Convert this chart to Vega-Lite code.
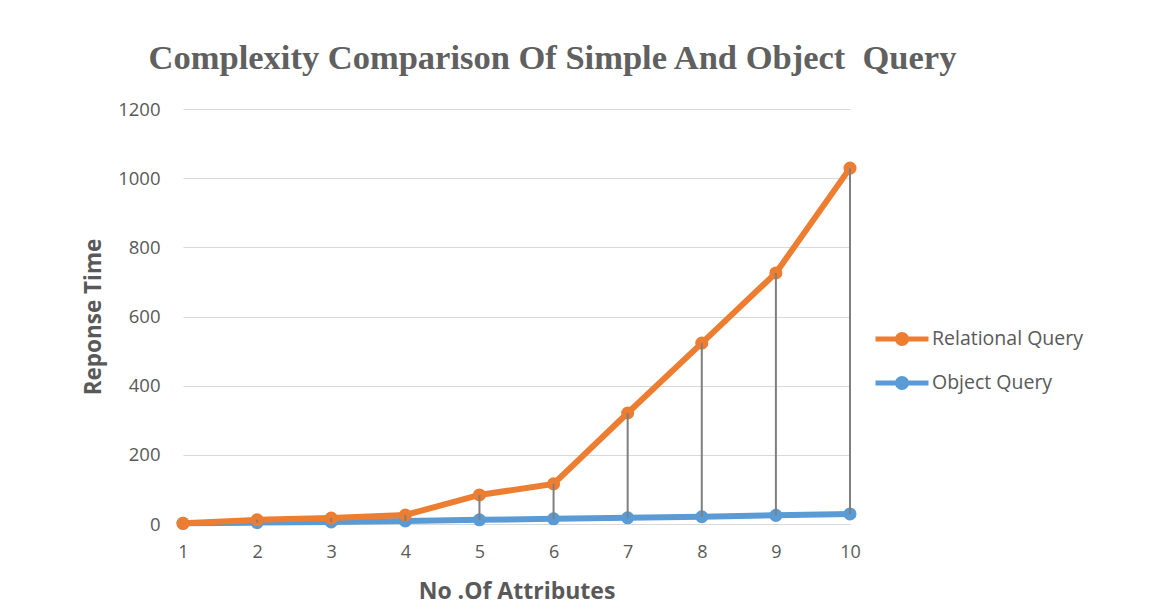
{
  "$schema": "https://vega.github.io/schema/vega-lite/v6.json",
  "autosize": {"type": "none"},
  "width": 667,
  "height": 415,
  "padding": {"left": 183, "top": 109, "right": 311, "bottom": 77},
  "background": "white",
  "title": {
    "text": "Complexity Comparison Of Simple And Object\u00a0 Query",
    "font": "Liberation Serif",
    "fontSize": 34.5,
    "fontWeight": "bold",
    "color": "#606060",
    "anchor": "middle",
    "frame": "group",
    "dx": 36,
    "offset": 24
  },
  "data": {
    "values": [
      {"attributes": 1, "Relational Query": 2, "Object Query": 2},
      {"attributes": 2, "Relational Query": 12, "Object Query": 4},
      {"attributes": 3, "Relational Query": 17, "Object Query": 6},
      {"attributes": 4, "Relational Query": 26, "Object Query": 9},
      {"attributes": 5, "Relational Query": 84, "Object Query": 12},
      {"attributes": 6, "Relational Query": 116, "Object Query": 15},
      {"attributes": 7, "Relational Query": 321, "Object Query": 18},
      {"attributes": 8, "Relational Query": 523, "Object Query": 21},
      {"attributes": 9, "Relational Query": 726, "Object Query": 25},
      {"attributes": 10, "Relational Query": 1029, "Object Query": 29}
    ]
  },
  "encoding": {
    "x": {
      "field": "attributes",
      "type": "quantitative",
      "scale": {"domain": [1, 10], "nice": false, "zero": false},
      "axis": {
        "title": "No .Of Attributes",
        "values": [1, 2, 3, 4, 5, 6, 7, 8, 9, 10],
        "format": "d",
        "labelFlush": false,
        "grid": false,
        "ticks": false,
        "domain": true,
        "domainColor": "#d9d9d9",
        "domainWidth": 1,
        "labelFont": "Open Sans",
        "labelFontSize": 18,
        "labelColor": "#595959",
        "labelPadding": 19,
        "titleFont": "Open Sans",
        "titleFontSize": 23,
        "titleFontWeight": "bold",
        "titleColor": "#595959",
        "titlePadding": 19
      }
    }
  },
  "layer": [
    {
      "transform": [{"fold": ["Object Query", "Relational Query"], "as": ["series", "value"]}],
      "mark": {"type": "line", "strokeWidth": 6, "point": {"filled": true, "size": 170}},
      "encoding": {
        "y": {
          "field": "value",
          "type": "quantitative",
          "scale": {"domain": [0, 1200], "nice": false},
          "axis": {
            "title": "Reponse Time",
            "values": [0, 200, 400, 600, 800, 1000, 1200],
            "format": "d",
            "grid": true,
            "gridColor": "#d9d9d9",
            "gridWidth": 1,
            "domain": false,
            "ticks": false,
            "labelFont": "Open Sans",
            "labelFontSize": 18.5,
            "labelColor": "#595959",
            "labelPadding": 23,
            "titleFont": "Open Sans",
            "titleFontSize": 22.5,
            "titleFontWeight": "bold",
            "titleColor": "#595959",
            "titlePadding": 12
          }
        },
        "color": {
          "field": "series",
          "type": "nominal",
          "scale": {"domain": ["Relational Query", "Object Query"], "range": ["#ED7D31", "#5B9BD5"]},
          "legend": {
            "title": null,
            "orient": "none",
            "legendX": 690,
            "legendY": 201,
            "padding": 0,
            "symbolType": "M-1,0 L1,0 M0.17,0 A0.17,0.17 0 1,1 -0.17,0 A0.17,0.17 0 1,1 0.17,0 Z",
            "symbolSize": 2809,
            "symbolStrokeWidth": 5,
            "rowPadding": -11,
            "labelFont": "Open Sans",
            "labelFontSize": 19.5,
            "labelColor": "#595959",
            "labelOffset": 1
          }
        }
      }
    },
    {
      "mark": {"type": "rule", "color": "#7f7f7f", "strokeWidth": 2},
      "encoding": {
        "y": {"field": "Relational Query", "type": "quantitative"},
        "y2": {"field": "Object Query"}
      }
    }
  ],
  "config": {"view": {"stroke": null}}
}
